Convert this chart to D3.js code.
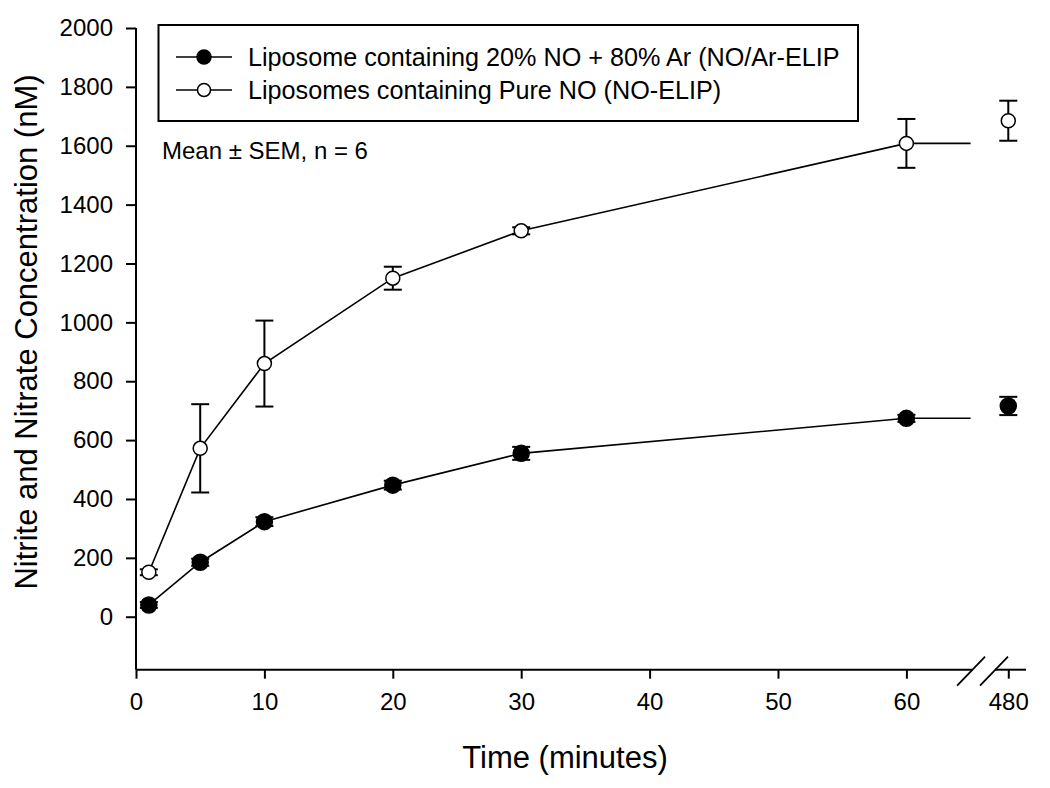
<!DOCTYPE html>
<html>
<head>
<meta charset="utf-8">
<script src="https://cdn.jsdelivr.net/npm/d3@7"></script>
<style>
  html, body { margin: 0; padding: 0; background: #fff; }
  svg { display: block; }
  text { font-family: "Liberation Sans", Arial, sans-serif; fill: #000; }
</style>
</head>
<body>
<svg id="chart" width="1050" height="788"></svg>
<script>
// ---------- data ----------
const times = [1, 5, 10, 20, 30, 60, 480];
const noArMean = [40, 185, 323, 447, 555, 674, 716];
const noArSem = [10, 12, 15, 15, 22, 12, 31];
const pureNoMean = [151, 572, 860, 1150, 1311, 1608, 1685];
const pureNoSem = [10, 150, 146, 39, 12, 83, 68];
const xTickValues = [0, 10, 20, 30, 40, 50, 60, 480];
const yTickValues = [0, 200, 400, 600, 800, 1000, 1200, 1400, 1600, 1800, 2000];
const seriesNames = [
  "Liposome containing 20% NO + 80% Ar (NO/Ar-ELIP",
  "Liposomes containing Pure NO (NO-ELIP)"
];
const noteText = "Mean \u00B1 SEM, n = 6";
const xTitle = "Time (minutes)";
const yTitle = "Nitrite and Nitrate Concentration (nM)";
const breakStart = 65;   // end of first axis segment (minutes)
const breakEnd = 478.5;  // start of second axis segment (minutes)
const xMax = 482;

// ---------- scales ----------
const svg = d3.select("#chart");
const x = d3.scaleLinear()
  .domain([0, breakStart, breakEnd, xMax])
  .range([136, 970.6, 995, 1026]);
const y = d3.scaleLinear().domain([-180, 2000]).range([669.7, 28]);

const series = [
  { name: seriesNames[0], mean: noArMean, sem: noArSem, filled: true },
  { name: seriesNames[1], mean: pureNoMean, sem: pureNoSem, filled: false }
];

// ---------- axes ----------
const yAxis = d3.axisLeft(y).tickValues(yTickValues).tickSize(10).tickPadding(13).tickFormat(d3.format("d"));
const gy = svg.append("g").attr("transform", `translate(${x(0)},0)`).call(yAxis);
gy.select(".domain").attr("d", `M0,${y(2000)}V${y.range()[0]}`);
gy.selectAll("path,line").attr("stroke", "#000").attr("stroke-width", 2);
gy.selectAll("text").attr("font-size", 24).style("font-family", '"Liberation Sans", Arial, sans-serif');

const xAxis = d3.axisBottom(x).tickValues(xTickValues).tickSize(9).tickPadding(14).tickFormat(d3.format("d"));
const gx = svg.append("g").attr("transform", `translate(0,${y.range()[0]})`).call(xAxis);
gx.select(".domain").remove();
gx.selectAll("line").attr("stroke", "#000").attr("stroke-width", 2);
gx.selectAll("text").attr("font-size", 24).style("font-family", '"Liberation Sans", Arial, sans-serif');

// broken x axis line
const axY = y.range()[0];
const gapL = x(breakStart) + 1.5, gapR = x(breakEnd);
svg.append("line").attr("x1", x(0)).attr("x2", gapL).attr("y1", axY).attr("y2", axY)
  .attr("stroke", "#000").attr("stroke-width", 2);
svg.append("line").attr("x1", gapR).attr("x2", x(xMax)).attr("y1", axY).attr("y2", axY)
  .attr("stroke", "#000").attr("stroke-width", 2);
// break marks
[gapL, gapR].forEach(cx => {
  svg.append("line")
    .attr("x1", cx - 15).attr("y1", axY + 16)
    .attr("x2", cx + 13).attr("y2", axY - 13)
    .attr("stroke", "#000").attr("stroke-width", 1.8);
});

// ---------- data drawing ----------
const plot = svg.append("g");
const line = d3.line().x(d => x(d[0])).y(d => y(d[1]));

series.forEach(s => {
  const pts = times.map((t, i) => [t, s.mean[i], s.sem[i]]);
  const seg = pts.filter(p => p[0] <= breakStart).map(p => [p[0], p[1]]);
  seg.push([breakStart, seg[seg.length - 1][1]]);
  plot.append("path").datum(seg).attr("d", line)
    .attr("fill", "none").attr("stroke", "#000").attr("stroke-width", 1.6);

  // error bars
  const eb = plot.append("g");
  pts.forEach(p => {
    const cx = x(p[0]), yt = y(p[1] + p[2]), yb = y(p[1] - p[2]);
    eb.append("line").attr("x1", cx).attr("x2", cx).attr("y1", yt).attr("y2", yb)
      .attr("stroke", "#000").attr("stroke-width", 2);
    [yt, yb].forEach(yy => eb.append("line").attr("x1", cx - 9).attr("x2", cx + 9)
      .attr("y1", yy).attr("y2", yy).attr("stroke", "#000").attr("stroke-width", 2));
  });

  plot.append("g").selectAll("circle").data(pts).join("circle")
    .attr("cx", d => x(d[0])).attr("cy", d => y(d[1]))
    .attr("r", s.filled ? 8 : 7)
    .attr("fill", s.filled ? "#000" : "#fff")
    .attr("stroke", "#000").attr("stroke-width", 1.5);
});

// ---------- legend ----------
const lg = svg.append("g");
lg.append("rect").attr("x", 158.5).attr("y", 25).attr("width", 699.5).attr("height", 96)
  .attr("fill", "#fff").attr("stroke", "#000").attr("stroke-width", 2);
const rowsY = [57, 90];
series.forEach((s, i) => {
  const ry = rowsY[i];
  lg.append("line").attr("x1", 176).attr("x2", 232).attr("y1", ry).attr("y2", ry)
    .attr("stroke", "#000").attr("stroke-width", 1.6);
  lg.append("circle").attr("cx", 204).attr("cy", ry).attr("r", s.filled ? 7 : 6.5)
    .attr("fill", s.filled ? "#000" : "#fff").attr("stroke", "#000").attr("stroke-width", 1.5);
  lg.append("text").attr("x", 248).attr("y", ry + 9).attr("font-size", 25.2).text(s.name);
});

svg.append("text").attr("x", 162).attr("y", 159).attr("font-size", 24).text(noteText);

// ---------- titles ----------
svg.append("text").attr("x", 565).attr("y", 768).attr("text-anchor", "middle")
  .attr("font-size", 31).text(xTitle);
svg.append("text").attr("transform", "translate(37,332) rotate(-90)")
  .attr("text-anchor", "middle").attr("font-size", 31).text(yTitle);
</script>
</body>
</html>
